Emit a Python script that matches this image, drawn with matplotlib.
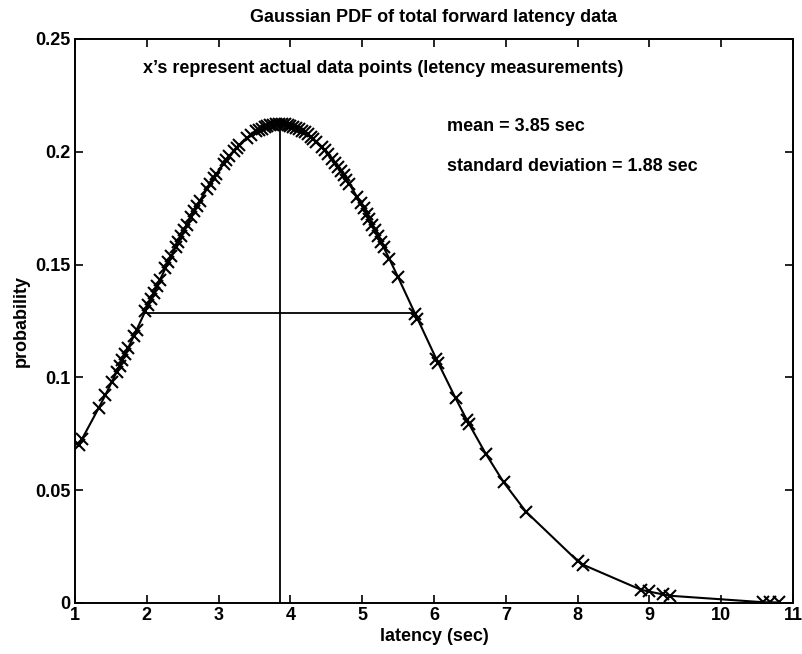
import matplotlib
matplotlib.use('Agg')
import matplotlib.pyplot as plt

latency = [1.05, 1.10, 1.33, 1.42, 1.51, 1.58, 1.62, 1.66, 1.70, 1.74, 1.82, 1.86,
           1.98, 2.02, 2.06, 2.10, 2.14, 2.18, 2.26, 2.30, 2.34, 2.40, 2.44, 2.48,
           2.52, 2.56, 2.62, 2.66, 2.70, 2.74, 2.84, 2.88, 2.93, 2.97, 3.07, 3.11,
           3.15, 3.21, 3.25, 3.29, 3.40, 3.45, 3.52, 3.56, 3.60, 3.64, 3.68, 3.72,
           3.76, 3.80, 3.84, 3.88, 3.92, 3.96, 4.00, 4.04, 4.08, 4.12, 4.16, 4.20,
           4.24, 4.28, 4.32, 4.36, 4.44, 4.48, 4.52, 4.58, 4.62, 4.66, 4.70, 4.74,
           4.78, 4.82, 4.93, 4.98, 5.02, 5.06, 5.10, 5.14, 5.18, 5.22, 5.26, 5.30,
           5.38, 5.50, 5.74, 5.77, 6.03, 6.06, 6.30, 6.46, 6.49, 6.72, 6.97, 7.28,
           8.00, 8.08, 8.88, 8.99, 9.19, 9.29, 10.58, 10.68, 10.80]
prob = [0.0700, 0.0728, 0.0864, 0.0920, 0.0978, 0.1024, 0.1050, 0.1077, 0.1103, 0.1130, 0.1184, 0.1212,
        0.1294, 0.1321, 0.1349, 0.1376, 0.1403, 0.1430, 0.1484, 0.1510, 0.1537, 0.1576, 0.1602, 0.1627,
        0.1652, 0.1677, 0.1713, 0.1737, 0.1760, 0.1783, 0.1837, 0.1858, 0.1883, 0.1902, 0.1947, 0.1964,
        0.1980, 0.2003, 0.2017, 0.2030, 0.2062, 0.2074, 0.2090, 0.2097, 0.2103, 0.2109, 0.2113, 0.2117,
        0.2120, 0.2122, 0.2122, 0.2122, 0.2121, 0.2118, 0.2115, 0.2111, 0.2106, 0.2100, 0.2093, 0.2086,
        0.2077, 0.2067, 0.2057, 0.2045, 0.2020, 0.2006, 0.1991, 0.1968, 0.1951, 0.1934, 0.1916, 0.1897,
        0.1877, 0.1858, 0.1799, 0.1771, 0.1749, 0.1725, 0.1701, 0.1677, 0.1652, 0.1627, 0.1602, 0.1576,
        0.1524, 0.1444, 0.1280, 0.1260, 0.1083, 0.1063, 0.0908, 0.0810, 0.0792, 0.0662, 0.0535, 0.0405,
        0.0186, 0.0169, 0.0059, 0.0051, 0.0038, 0.0032, 0.00035, 0.00029, 0.00023]

mean_x = 3.85
peak_y = 0.2122
sigma_lo, sigma_hi = 1.97, 5.73
sigma_y = 0.1287

FS = 13
plt.rcParams['font.family'] = ['Liberation Sans', 'DejaVu Sans']
plt.rcParams['font.size'] = FS
plt.rcParams['font.weight'] = 'bold'

fig = plt.figure(figsize=(8.02, 6.54), dpi=100)
ax = fig.add_axes([0.0935, 0.078, 0.8953, 0.8624])

ax.plot(latency, prob, '-', color='black', linewidth=1.5,
        marker='x', markersize=9, markeredgewidth=1.5)
ax.plot([mean_x, mean_x], [0, peak_y], color='black', linewidth=1.3)
ax.plot([sigma_lo, sigma_hi], [sigma_y, sigma_y], color='black', linewidth=1.3)

ax.set_xlim(1, 11)
ax.set_ylim(0, 0.25)
ax.set_xticks(range(1, 12))
ax.set_yticks([0, 0.05, 0.1, 0.15, 0.2, 0.25])
ax.set_yticklabels(['0', '0.05', '0.1', '0.15', '0.2', '0.25'])
ax.tick_params(direction='in', top=True, right=True, length=6, width=1.2,
               labelsize=FS, pad=3)
for sp in ax.spines.values():
    sp.set_linewidth(1.4)

ax.set_xlabel('latency (sec)', fontsize=FS, fontweight='bold', labelpad=3)
ax.set_ylabel('probability', fontsize=FS, fontweight='bold', labelpad=4)
ax.set_title('Gaussian PDF of total forward latency data', fontsize=FS,
             fontweight='bold', pad=12)

ax.text(1.95, 0.2367, "x\u2019s represent actual data points (letency measurements)",
        va='center')
ax.text(6.18, 0.2110, 'mean = 3.85 sec', va='center')
ax.text(6.18, 0.1934, 'standard deviation = 1.88 sec', va='center')

fig.savefig('out.png', dpi=100)
